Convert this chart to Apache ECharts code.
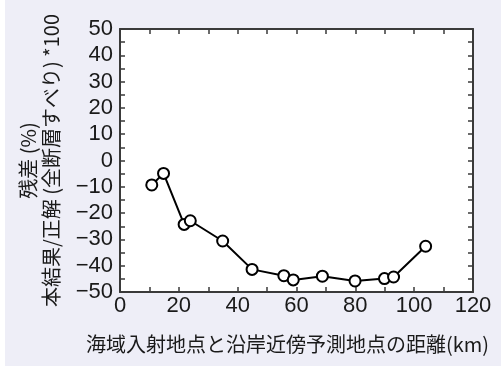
<!DOCTYPE html>
<html>
<head>
<meta charset="utf-8">
<script src="https://cdn.jsdelivr.net/npm/echarts@6/dist/echarts.min.js"></script>
<style>html,body{margin:0;padding:0;background:#fff;}#c{width:501px;height:369px;}</style>
</head>
<body>
<div id="c"></div>
<script>
const distanceKm = [10.8, 14.8, 21.8, 23.9, 34.9, 44.9, 55.7, 58.9, 68.8, 79.9, 89.9, 93.0, 103.9];
const residualPct = [-9.3, -4.9, -24.3, -22.9, -30.6, -41.4, -43.8, -45.4, -44.0, -45.8, -44.9, -44.3, -32.6];
const xTitle = '海域入射地点と沿岸近傍予測地点の距離(km)';
const yTitle = ['残差 (%)', '本結果/正解 (全断層すべり) *100'];

const chart = echarts.init(document.getElementById('c'), null, {renderer: 'canvas'});
const axisCol = '#3a3a3a';
const numFont = 'Liberation Sans, Arial, sans-serif';
const jpFont = 'Noto Sans CJK JP, sans-serif';
const baseAxis = {
  axisLine: {show: true, onZero: false, lineStyle: {color: axisCol, width: 2}},
  axisTick: {show: true, inside: true, length: 5, lineStyle: {color: axisCol, width: 1.5}},
  minorTick: {show: true, splitNumber: 2, length: 5, lineStyle: {color: axisCol, width: 1.5}},
  splitLine: {show: false}
};
chart.setOption({
  backgroundColor: '#ffffff',
  animation: false,
  graphic: [{type: 'rect', left: 5, top: 0, z: -10, shape: {width: 496, height: 366}, style: {fill: '#eeeef7'}}],
  grid: {left: 120, right: 28, top: 29, bottom: 77, show: true, backgroundColor: '#ffffff', borderWidth: 0,
    containLabel: false, outerBoundsMode: 'none'},
  xAxis: [
    Object.assign({}, baseAxis, {
      type: 'value', min: 0, max: 120, interval: 20, position: 'bottom',
      axisLabel: {color: '#1a1a1a', fontSize: 22, fontFamily: numFont, margin: 3},
      name: xTitle, nameLocation: 'middle', nameGap: 42,
      nameTextStyle: {color: '#1a1a1a', fontSize: 20, fontFamily: jpFont, padding: [0, 18, 0, 0]}
    }),
    Object.assign({}, baseAxis, {
      type: 'value', min: 0, max: 120, interval: 20, position: 'top',
      axisLabel: {show: false}
    })
  ],
  yAxis: [
    Object.assign({}, baseAxis, {
      type: 'value', min: -50, max: 50, interval: 10, position: 'left',
      axisLabel: {color: '#1a1a1a', fontSize: 22, fontFamily: numFont, margin: 7,
        formatter: v => (v < 0 ? '\u2212' + Math.abs(v) : String(v))},
      name: yTitle.join('\n'), nameLocation: 'middle', nameGap: 57, nameRotate: 90,
      nameTextStyle: {color: '#1a1a1a', fontSize: 20, fontFamily: jpFont, lineHeight: 23}
    }),
    Object.assign({}, baseAxis, {
      type: 'value', min: -50, max: 50, interval: 10, position: 'right',
      axisLabel: {show: false}
    })
  ],
  series: [{
    type: 'line',
    data: distanceKm.map((x, i) => [x, residualPct[i]]),
    symbol: 'circle', symbolSize: 11,
    lineStyle: {color: '#000', width: 2},
    itemStyle: {color: '#fff', borderColor: '#000', borderWidth: 2},
    z: 5
  }]
});
</script>
</body>
</html>
